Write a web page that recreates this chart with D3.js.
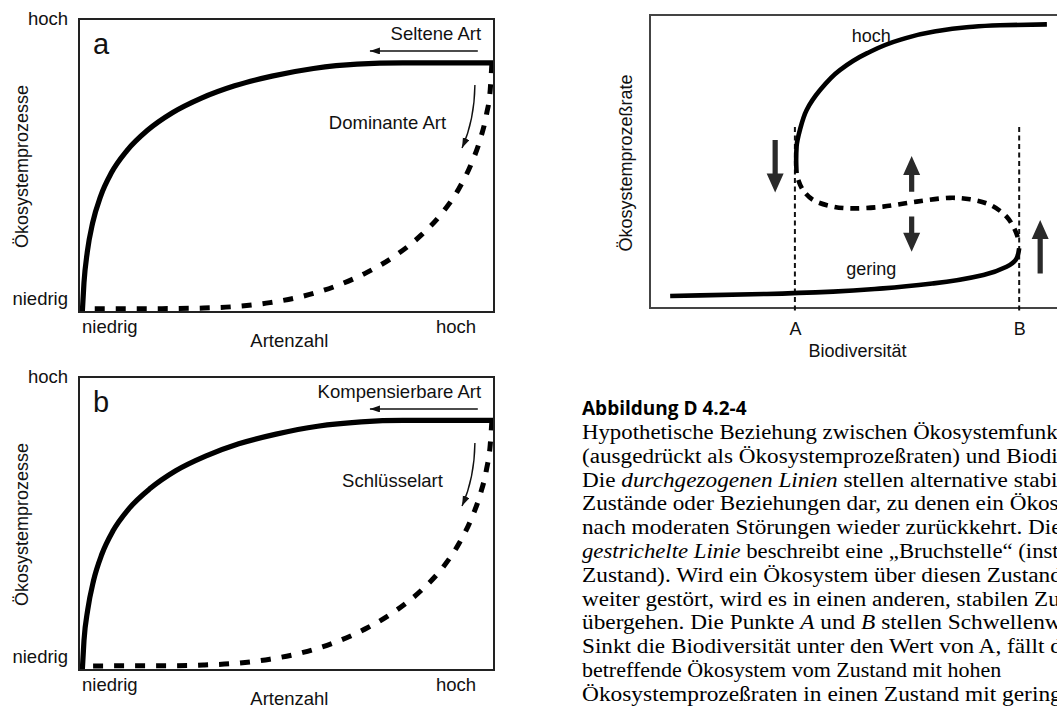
<!DOCTYPE html>
<html><head><meta charset="utf-8">
<script src="https://cdn.jsdelivr.net/npm/d3@7"></script>
<style>body{margin:0;background:#fff}svg{display:block}</style>
</head><body>
<svg id="chart" width="1057" height="709"></svg>
<script>
// ---------- DATA ----------
const levelLabels = ["niedrig", "hoch"];
const xTitleLeft = "Artenzahl";
const yTitleLeft = "Ökosystemprozesse";
const panelLabels = ["a", "b"];
const solidLabels = ["Seltene Art", "Kompensierbare Art"];
const dashedLabels = ["Dominante Art", "Schlüsselart"];

// panel a (x: Artenzahl 0-100, y: Ökosystemprozesse 0-100)
const solidA = [[0.8,0],[1.2,10],[2.0,20.5],[3.3,30.5],[5.2,39.5],[7.8,47.5],[11.5,55],[16.5,62],[22.5,68],[29.5,73],[37.5,77.2],[46.5,80.5],[56.5,83.1],[67,84.6],[78,85],[100,85]];
const dashedA = [[1.9,1.1],[20,1.15],[30,1.35],[38,1.9],[46,3.2],[54,5.4],[62,8.9],[69.5,13.6],[76.5,19.5],[82.5,26.3],[87.5,33.8],[91.5,42],[94.5,50.5],[96.7,59],[98.2,67.5],[99.1,76],[99.5,85]];
// panel b
const solidB = [[0.8,0],[1.2,10],[2.1,20.5],[3.5,30.5],[5.5,39.5],[8.2,47.5],[12,55],[17.2,62],[23.3,68],[30.5,73],[38.5,77.2],[47.5,80.5],[57.5,83.2],[68,84.7],[78,85.2],[100,85.2]];
const dashedB = [[1.9,1.4],[20,1.45],[30,1.7],[38,2.3],[46,3.7],[54,6],[62,9.6],[69.5,14.4],[76.5,20.4],[82.5,27.2],[87.5,34.7],[91.5,43],[94.5,51.5],[96.7,60],[98.2,68.5],[99.1,77],[99.5,85.2]];

// right panel (x: Biodiversität 0-100, y: Ökosystemprozeßrate 0-100)
const rightHigh = [[34.9,46],[34.8,50.5],[34.9,55.1],[35.7,60.8],[37.3,67.6],[40.5,74.4],[45.2,81.2],[51.6,86.9],[59.5,91.5],[67.4,94.3],[75.4,95.8],[83.3,96.5],[94.5,96.8]];
const rightUnstable = [[35.3,43.7],[36.4,40.3],[38.8,36.9],[43.6,34.6],[48.3,34],[55.5,34.6],[63.5,36.3],[71.4,37.6],[76.2,37.1],[81,35.2],[84.9,31.2],[86.9,26.6],[87.9,22.6]];
const rightLow = [[4.8,4.1],[11.9,4.3],[27.8,4.8],[43.6,5.6],[55.5,6.7],[67.5,8.4],[79.4,11.3],[84.9,14.1],[87.3,17],[87.9,20.4]];
const thresholdNames = ["A", "B"];
const thresholdValues = [34.5, 87.9];
const stateLabels = ["hoch", "gering"];
const xTitleRight = "Biodiversität";
const yTitleRight = "Ökosystemprozeßrate";
const arrowX = [29.8, 62.3, 62.3, 92.9];
const arrowFrom = [57.3, 39.7, 31.2, 11.8];
const arrowTo = [39.4, 51.9, 19.2, 30.0];

const captionTitle = "Abbildung D 4.2-4";
const captionLines = [
  [["Hypothetische Beziehung zwischen Ökosystemfunktionen", 0]],
  [["(ausgedrückt als Ökosystemprozeßraten) und Biodiversität.", 0]],
  [["Die ", 0], ["durchgezogenen Linien", 1], [" stellen alternative stabile", 0]],
  [["Zustände oder Beziehungen dar, zu denen ein Ökosystem", 0]],
  [["nach moderaten Störungen wieder zurückkehrt. Die", 0]],
  [["gestrichelte Linie", 1], [" beschreibt eine „Bruchstelle“ (instabiler", 0]],
  [["Zustand). Wird ein Ökosystem über diesen Zustand hinaus", 0]],
  [["weiter gestört, wird es in einen anderen, stabilen Zustand", 0]],
  [["übergehen. Die Punkte ", 0], ["A", 1], [" und ", 0], ["B", 1], [" stellen Schwellenwerte dar.", 0]],
  [["Sinkt die Biodiversität unter den Wert von A, fällt das", 0]],
  [["betreffende Ökosystem vom Zustand mit hohen", 0]],
  [["Ökosystemprozeßraten in einen Zustand mit geringen", 0]]
];
// part of each caption line that is visible up to the right edge, and where it ends (layout)
const captionVisible = [
  "Hypothetische Beziehung zwischen Ökosystemfunk",
  "(ausgedrückt als Ökosystemprozeßraten) und Biodi",
  "Die durchgezogenen Linien stellen alternative stabi",
  "Zustände oder Beziehungen dar, zu denen ein Ökos",
  "nach moderaten Störungen wieder zurückkehrt. Die",
  "gestrichelte Linie beschreibt eine „Bruchstelle“ (inst",
  "Zustand). Wird ein Ökosystem über diesen Zustand",
  "weiter gestört, wird es in einen anderen, stabilen Zu",
  "übergehen. Die Punkte A und B stellen Schwellenw",
  "Sinkt die Biodiversität unter den Wert von A, fällt d",
  null,
  "Ökosystemprozeßraten in einen Zustand mit gering"
];
const captionVisibleEnd = [1058, 1058, 1058, 1059, 1062, 1059, 1062, 1060, 1062, 1062, null, 1062];

// ---------- DRAW ----------
const svg = d3.select("#chart");
svg.append("rect").attr("width", 1057).attr("height", 709).attr("fill", "#fff");
const SANS = "'Liberation Sans', Arial, Helvetica, sans-serif";
const ink = "#111";
const FS = 18.5;

const defs = svg.append("defs");
defs.append("marker").attr("id", "thinHead").attr("markerUnits", "userSpaceOnUse")
  .attr("markerWidth", 11).attr("markerHeight", 8).attr("refX", 10).attr("refY", 3.5)
  .attr("orient", "auto")
  .append("path").attr("d", "M0,0 L10,3.5 L0,7 Z").attr("fill", ink);

const lineGen = (x, y, curve) => d3.line().x(d => x(d[0])).y(d => y(d[1])).curve(curve);

const panels = [
  {top: 19, bottom: 312, solid: solidA, dashed: dashedA},
  {top: 377, bottom: 670, solid: solidB, dashed: dashedB}
];
const L = 79, R = 494;

panels.forEach((p, i) => {
  const x = d3.scaleLinear().domain([0, 100]).range([L, R]);
  const y = d3.scaleLinear().domain([0, 100]).range([p.bottom, p.top]);
  const g = svg.append("g");

  g.append("path").attr("d", lineGen(x, y, d3.curveMonotoneX)(p.dashed.slice().reverse()))
    .attr("fill", "none").attr("stroke", "#000").attr("stroke-width", 5)
    .attr("stroke-dasharray", "10,11");
  g.append("path").attr("d", lineGen(x, y, d3.curveMonotoneX)(p.solid))
    .attr("fill", "none").attr("stroke", "#000").attr("stroke-width", 5.2);

  g.append("rect").attr("x", L).attr("y", p.top).attr("width", R - L).attr("height", p.bottom - p.top)
    .attr("fill", "none").attr("stroke", "#222").attr("stroke-width", 2);

  g.append("text").attr("x", L + 14).attr("y", p.top + 35).text(panelLabels[i])
    .attr("font-family", SANS).attr("font-size", 29).attr("fill", ink);

  const txt = (tx, ty, s, anchor) => g.append("text").attr("x", tx).attr("y", ty)
    .attr("text-anchor", anchor).text(s).attr("font-family", SANS).attr("font-size", FS).attr("fill", ink);
  txt(68, y(100) + 6, levelLabels[1], "end");
  txt(68, y(0) - 7, levelLabels[0], "end");
  txt(x(0) + 3, y(0) + 21, levelLabels[0], "start");
  txt(x(95.7), y(0) + 21, levelLabels[1], "end");
  txt(x(50.7), y(0) + 35, xTitleLeft, "middle");
  g.append("text").attr("transform", `translate(28,${(p.top + p.bottom) / 2 + 1}) rotate(-90)`)
    .attr("text-anchor", "middle").text(yTitleLeft)
    .attr("font-family", SANS).attr("font-size", 18).attr("fill", ink);

  txt(x(96.9), y(93), solidLabels[i], "end");
  g.append("line").attr("x1", x(96.1)).attr("x2", x(70.1)).attr("y1", y(89.1)).attr("y2", y(89.1))
    .attr("stroke", ink).attr("stroke-width", 1.4).attr("marker-end", "url(#thinHead)");

  txt(x(i === 0 ? 60.2 : 63.4), y(62.4), dashedLabels[i], "start");
  const pth = d3.path();
  pth.moveTo(x(95.4), y(77.5));
  pth.quadraticCurveTo(x(95.3), y(65.5), x(92.3), y(56));
  g.append("path").attr("d", pth.toString()).attr("fill", "none")
    .attr("stroke", ink).attr("stroke-width", 1.4).attr("marker-end", "url(#thinHead)");
});

// ---------- RIGHT PANEL ----------
{
  const x = d3.scaleLinear().domain([0, 100]).range([650, 1070]);
  const y = d3.scaleLinear().domain([0, 100]).range([308, 15]);
  const g = svg.append("g");

  g.append("rect").attr("x", 650).attr("y", 15).attr("width", 430).attr("height", 293)
    .attr("fill", "none").attr("stroke", "#444").attr("stroke-width", 2);

  thresholdValues.forEach(v => {
    g.append("line").attr("x1", x(v)).attr("x2", x(v)).attr("y1", y(61.8)).attr("y2", y(0) + 5)
      .attr("stroke", "#111").attr("stroke-width", 2).attr("stroke-dasharray", "5,3.5");
  });

  const ax = g.append("g").attr("transform", "translate(0,308)")
    .call(d3.axisBottom(x).tickValues(thresholdValues).tickFormat((d, i) => thresholdNames[i]).tickSize(0).tickPadding(14));
  ax.select(".domain").remove();
  ax.selectAll("text").attr("font-family", SANS).attr("font-size", 18).attr("fill", ink);

  g.append("text").attr("x", x(49.4)).attr("y", 357).attr("text-anchor", "middle").text(xTitleRight)
    .attr("font-family", SANS).attr("font-size", 18).attr("fill", ink);
  g.append("text").attr("transform", `translate(632,163) rotate(-90)`).attr("text-anchor", "middle")
    .text(yTitleRight).attr("font-family", SANS).attr("font-size", 18).attr("fill", ink);

  g.append("path").attr("d", lineGen(x, y, d3.curveCatmullRom.alpha(0.5))(rightUnstable)).attr("fill", "none").attr("stroke", "#000")
    .attr("stroke-width", 4.6).attr("stroke-dasharray", "9,7");
  g.append("path").attr("d", lineGen(x, y, d3.curveMonotoneY)(rightHigh)).attr("fill", "none").attr("stroke", "#000").attr("stroke-width", 4.6);
  g.append("path").attr("d", lineGen(x, y, d3.curveMonotoneY)(rightLow.slice().sort((a, b) => a[1] - b[1]))).attr("fill", "none").attr("stroke", "#000").attr("stroke-width", 4.6);

  g.append("text").attr("x", x(52.7)).attr("y", y(90.8)).attr("text-anchor", "middle").text(stateLabels[0])
    .attr("font-family", SANS).attr("font-size", 18).attr("fill", ink);
  g.append("text").attr("x", x(52.7)).attr("y", y(11.3)).attr("text-anchor", "middle").text(stateLabels[1])
    .attr("font-family", SANS).attr("font-size", 18).attr("fill", ink);

  arrowX.forEach((ax0, i) => {
    const cx = x(ax0), y0 = y(arrowFrom[i]), y1 = y(arrowTo[i]);
    const dir = y1 > y0 ? 1 : -1;
    const headLen = 19, headW = 8.5, shaftW = 2.6;
    const yb = y1 - dir * headLen;
    const pts = [[cx - shaftW, y0], [cx - shaftW, yb], [cx - headW, yb], [cx, y1], [cx + headW, yb], [cx + shaftW, yb], [cx + shaftW, y0]];
    g.append("path").attr("d", "M" + pts.map(p => p.join(",")).join("L") + "Z").attr("fill", "#2a2a2a");
  });
}

// ---------- CAPTION ----------
{
  const g = svg.append("g");
  g.append("text").attr("x", 582).attr("y", 415).text(captionTitle)
    .attr("font-family", "'Open Sans', 'Liberation Sans', sans-serif").attr("font-weight", 700)
    .attr("font-size", 19).attr("fill", "#000");
  const X0 = 582;
  captionLines.forEach((segs, i) => {
    const yy = 439 + i * 23.8;
    const t = g.append("text").attr("x", 0).attr("y", 0)
      .attr("transform", `translate(${X0},${yy})`)
      .attr("font-family", "'Liberation Serif', 'Times New Roman', serif").attr("font-size", 20).attr("fill", "#000");
    segs.forEach(s => {
      t.append("tspan").text(s[0]).attr("font-style", s[1] ? "italic" : "normal");
    });
    let sx = 1.1;
    if (captionVisible[i]) {
      const w = t.node().getSubStringLength(0, captionVisible[i].length);
      if (w > 0) sx = Math.max(0.95, Math.min(1.2, (captionVisibleEnd[i] - X0) / w));
    }
    t.attr("transform", `translate(${X0},${yy}) scale(${sx},1)`);
  });
}
</script>
</body></html>
